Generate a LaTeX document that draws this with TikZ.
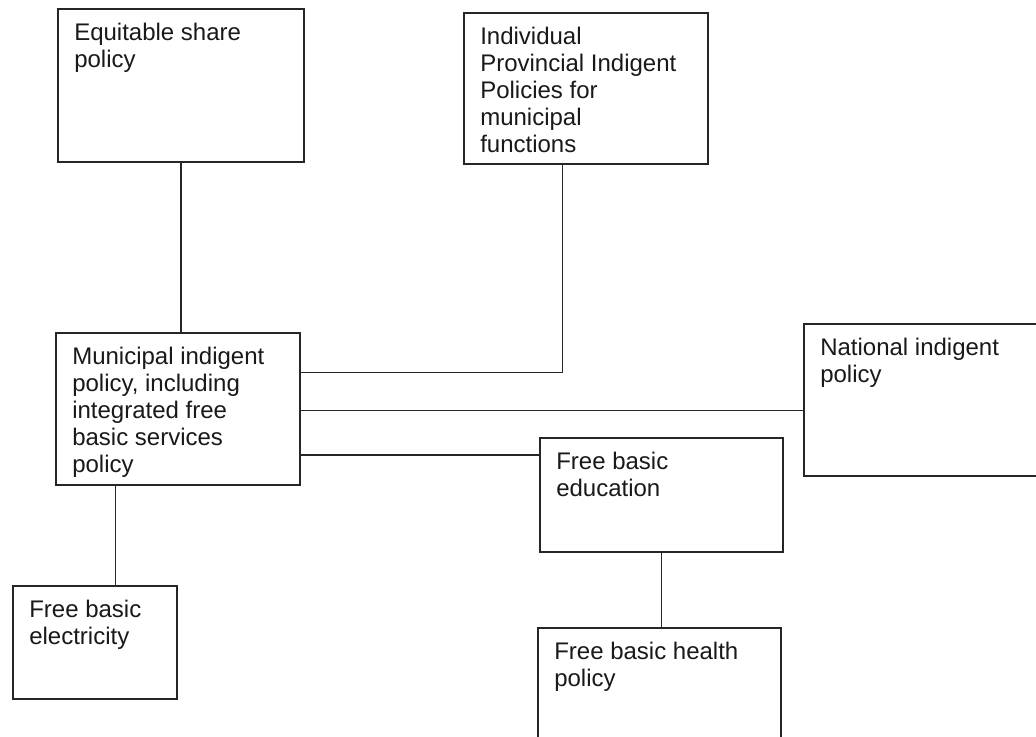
\documentclass[tikz,border=0pt]{standalone}
\usepackage{fontspec}
\setmainfont{Liberation Sans}
\usetikzlibrary{calc}
\tikzset{
	policy/.style={draw=black!85, line width=1.2pt, anchor=north west, inner sep=0pt},
	policytext/.style={anchor=north west, align=left, inner sep=0pt, xshift=12.75pt, yshift=-11pt, text=black!90, font=\fontsize{18}{20.3}\selectfont},
	link/.style={draw=black!85, line width=1.2pt}
}
% box with its text in the top left corner
\newcommand\policybox[6]{
	\node[policy, minimum width=#4*0.75pt, minimum height=#5*0.75pt,
		label={[policytext]north west:{#6}}] (#1) at (#2,#3) {};
}

\begin{document}
\begin{tikzpicture}[x=0.75pt, y=-0.75pt]
	\clip (0,0) rectangle (1036,737);
	\fill[white] (0,0) rectangle (1036,737);

	% boxes
	\policybox{equit}{57}{8}{246}{153}{Equitable share\\policy}
	\policybox{prov}{463}{12}{244}{151}{Individual\\Provincial Indigent\\Policies for\\municipal\\functions}
	\policybox{munic}{55}{332}{244}{152}{Municipal indigent\\policy, including\\integrated free\\basic services\\policy}
	\policybox{natl}{803}{323}{260}{152}{National indigent\\policy}
	\policybox{educ}{539}{437}{243}{114}{Free basic\\education}
	\policybox{elec}{12}{585}{164}{113}{Free basic\\electricity}
	\policybox{health}{537}{627}{243}{140}{Free basic health\\policy}

	% link ends on the municipal box
	\coordinate (m-prov) at ($(munic.north east)!.263!(munic.south east)$);
	\coordinate (m-natl) at ($(munic.north east)!.51!(munic.south east)$);
	\coordinate (m-educ) at ($(munic.north east)!.8!(munic.south east)$);
	\coordinate (m-elec) at ($(munic.south west)!.246!(munic.south east)$);
	\coordinate (p-foot) at ($(prov.south west)!.405!(prov.south east)$);

	% links
	\draw[link] (equit.south) -- (equit.south |- munic.north);
	\draw[link] (p-foot) |- (m-prov);
	\draw[link] (m-natl) -- (m-natl -| natl.west);
	\draw[link] (m-educ) -- (m-educ -| educ.west);
	\draw[link] (m-elec) -- (m-elec |- elec.north);
	\draw[link] (educ.south) -- (educ.south |- health.north);
\end{tikzpicture}
\end{document}
